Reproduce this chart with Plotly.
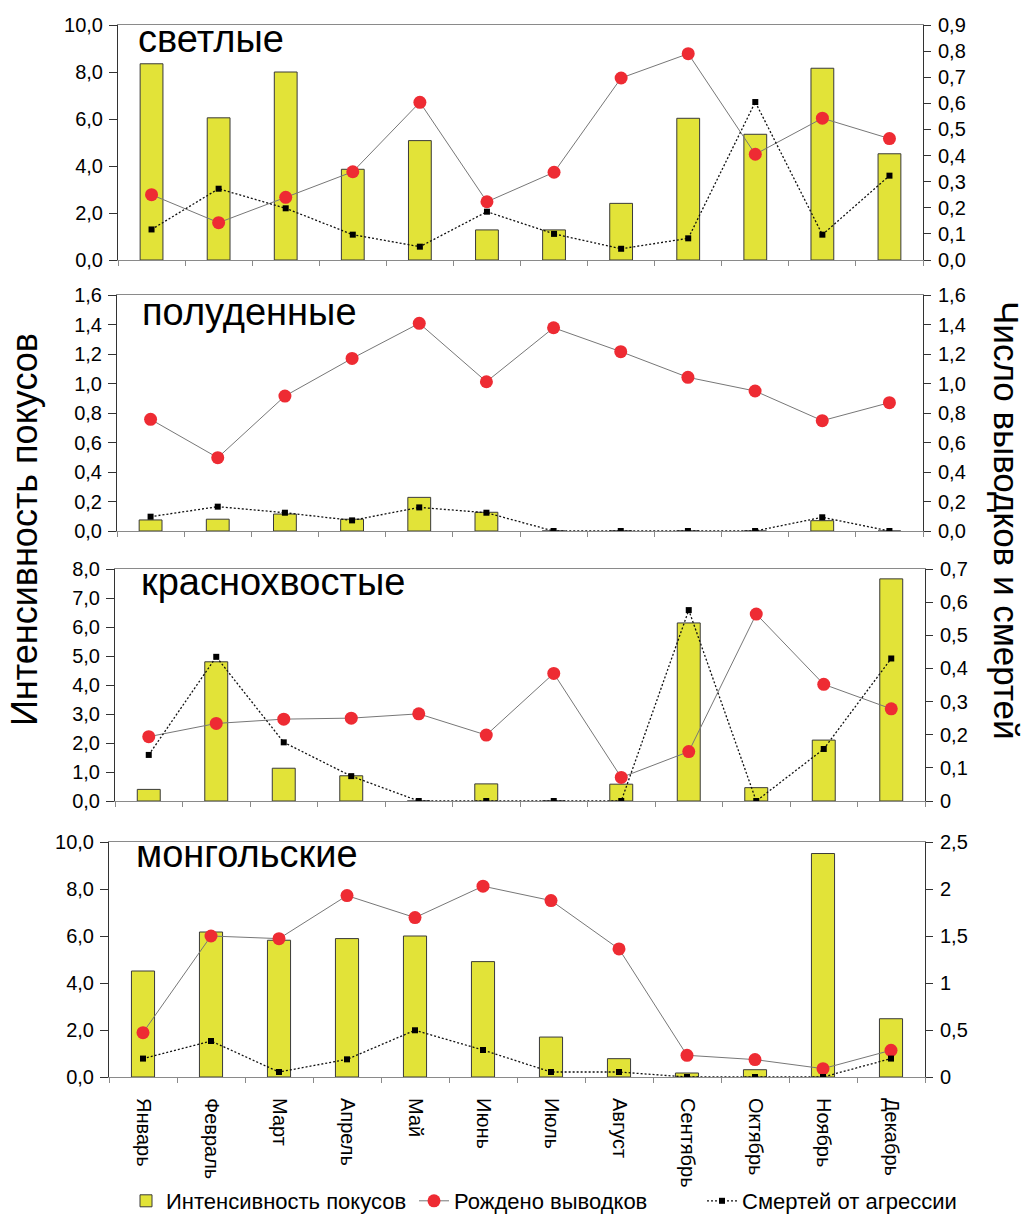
import plotly.graph_objects as go

# Месяцы (категории оси X)
months = ["Январь", "Февраль", "Март", "Апрель", "Май", "Июнь",
          "Июль", "Август", "Сентябрь", "Октябрь", "Ноябрь", "Декабрь"]

panel_names = ["светлые", "полуденные", "краснохвостые", "монгольские"]

# Интенсивность покусов (левая ось)
bites_svetlye = [8.35, 6.05, 8.0, 3.86, 5.08, 1.28, 1.28, 2.41, 6.03, 5.35, 8.16, 4.52]
bites_poludennye = [0.075, 0.08, 0.115, 0.08, 0.228, 0.127, 0, 0, 0, 0, 0.07, 0]
bites_krasnokhv = [0.4, 4.8, 1.13, 0.87, 0, 0.59, 0, 0.58, 6.14, 0.46, 2.1, 7.66]
bites_mongol = [4.51, 6.17, 5.82, 5.89, 6.0, 4.91, 1.70, 0.78, 0.17, 0.31, 9.51, 2.48]

# Рождено выводков (правая ось)
broods_svetlye = [0.25, 0.143, 0.24, 0.338, 0.604, 0.223, 0.336, 0.697, 0.79, 0.405, 0.543, 0.465]
broods_poludennye = [0.757, 0.497, 0.915, 1.17, 1.408, 1.012, 1.378, 1.216, 1.042, 0.949, 0.748, 0.87]
broods_krasnokhv = [0.194, 0.234, 0.247, 0.25, 0.263, 0.199, 0.385, 0.071, 0.149, 0.564, 0.352, 0.278]
broods_mongol = [0.472, 1.5, 1.472, 1.93, 1.696, 2.03, 1.877, 1.362, 0.231, 0.185, 0.089, 0.284]

# Смертей от агрессии (правая ось)
deaths_svetlye = [0.117, 0.273, 0.198, 0.097, 0.051, 0.185, 0.10, 0.043, 0.083, 0.605, 0.097, 0.323]
deaths_poludennye = [0.097, 0.165, 0.124, 0.072, 0.16, 0.124, 0, 0, 0, 0, 0.093, 0]
deaths_krasnokhv = [0.139, 0.435, 0.177, 0.075, 0, 0, 0, 0, 0.576, 0, 0.157, 0.43]
deaths_mongol = [0.196, 0.383, 0.053, 0.188, 0.497, 0.287, 0.053, 0.053, 0, 0, 0, 0.196]

# Подписи делений осей
left_ticks_1 = ["0,0", "2,0", "4,0", "6,0", "8,0", "10,0"]
right_ticks_1 = ["0,0", "0,1", "0,2", "0,3", "0,4", "0,5", "0,6", "0,7", "0,8", "0,9"]
left_ticks_2 = ["0,0", "0,2", "0,4", "0,6", "0,8", "1,0", "1,2", "1,4", "1,6"]
right_ticks_2 = ["0,0", "0,2", "0,4", "0,6", "0,8", "1,0", "1,2", "1,4", "1,6"]
left_ticks_3 = ["0,0", "1,0", "2,0", "3,0", "4,0", "5,0", "6,0", "7,0", "8,0"]
right_ticks_3 = ["0", "0,1", "0,2", "0,3", "0,4", "0,5", "0,6", "0,7"]
left_ticks_4 = ["0,0", "2,0", "4,0", "6,0", "8,0", "10,0"]
right_ticks_4 = ["0", "0,5", "1", "1,5", "2", "2,5"]

bites = [bites_svetlye, bites_poludennye, bites_krasnokhv, bites_mongol]
broods = [broods_svetlye, broods_poludennye, broods_krasnokhv, broods_mongol]
deaths = [deaths_svetlye, deaths_poludennye, deaths_krasnokhv, deaths_mongol]
left_ticks = [left_ticks_1, left_ticks_2, left_ticks_3, left_ticks_4]
right_ticks = [right_ticks_1, right_ticks_2, right_ticks_3, right_ticks_4]

W, H = 1036, 1218
# пиксельные границы панелей: (лево, право, верх, низ)
panel_px = [(118, 923, 25, 260), (117, 923, 295, 531),
            (115, 925, 569, 801), (109, 925, 842, 1077)]
title_px = [(136, 39), (140, 311.5), (139, 582), (134, 854)]

BAR = "#E2E338"
RED = "#EE2B33"
FONT = "Liberation Sans, Arial, sans-serif"


def num(t):
    return float(t.replace(",", "."))


fig = go.Figure()
layout = dict(
    width=W, height=H, margin=dict(l=0, r=0, t=0, b=0, autoexpand=False),
    paper_bgcolor="white", plot_bgcolor="white", template="none",
    font=dict(family=FONT, size=20, color="black"),
    separators=", ", bargap=0.66, showlegend=True,
    legend=dict(orientation="h", xref="container", yref="container",
                x=126 / W, xanchor="left",
                y=1 - 1201 / H, yanchor="middle",
                font=dict(size=22), bgcolor="rgba(0,0,0,0)",
                traceorder="normal", itemwidth=30,
                entrywidth=243, entrywidthmode="pixels"),
)

annotations = []
for i in range(4):
    xl, xr, yt, yb = panel_px[i]
    xn = "x" if i == 0 else f"x{i + 1}"
    yl_n = 2 * i + 1
    yr_n = 2 * i + 2
    yc_n = 9 + i
    yl = "y" if yl_n == 1 else f"y{yl_n}"
    yr = f"y{yr_n}"
    first = i == 0

    fig.add_trace(go.Bar(
        x=months, y=bites[i], xaxis=xn, yaxis=yl, width=0.34,
        marker=dict(color=BAR, line=dict(color="#3a3a3a", width=1)),
        name="Интенсивность покусов", legendgroup="b", showlegend=first))
    fig.add_trace(go.Scatter(
        x=months, y=broods[i], xaxis=xn, yaxis=yr, mode="lines+markers",
        line=dict(color="#777777", width=1),
        marker=dict(color=RED, size=13),
        name="Рождено выводков", legendgroup="r", showlegend=first))
    fig.add_trace(go.Scatter(
        x=months, y=deaths[i], xaxis=xn, yaxis=yr, mode="lines+markers",
        line=dict(color="#111111", width=1.3, dash="2px,2px"),
        marker=dict(color="black", size=6, symbol="square"),
        name="Смертей от агрессии", legendgroup="d", showlegend=first))

    xdom = [xl / W, xr / W]
    ydom = [1 - yb / H, 1 - yt / H]
    lt = left_ticks[i]
    rt = right_ticks[i]
    lrange = [0, num(lt[-1])]
    rrange = [0, num(rt[-1])]

    xkey = "xaxis" if i == 0 else f"xaxis{i + 1}"
    layout[xkey] = dict(
        domain=xdom, anchor=yl, type="category", categoryarray=months,
        range=[-0.5, 11.5], showline=True, linecolor="#8a8a8a", linewidth=1,
        mirror=True, ticks="outside", tickson="boundaries", ticklen=5,
        tickcolor="#8a8a8a", showgrid=False, zeroline=False,
        showticklabels=(i == 3), tickangle=90, automargin=False,
        tickfont=dict(size=20), ticklabelstandoff=16)
    ylkey = "yaxis" if yl_n == 1 else f"yaxis{yl_n}"
    layout[ylkey] = dict(
        domain=ydom, anchor=xn, range=lrange, showline=True,
        linecolor="#333333", linewidth=1, ticks="outside", ticklen=8,
        tickcolor="#333333", showgrid=False, zeroline=False,
        tickvals=[num(t) for t in lt], ticktext=lt, automargin=False,
        ticklabelstandoff=2)
    layout[f"yaxis{yr_n}"] = dict(
        domain=ydom, anchor=xn, overlaying=yl, side="right", range=rrange,
        showline=True, linecolor="#333333", linewidth=1, ticks="outside",
        ticklen=7, tickcolor="#333333", showgrid=False, zeroline=False,
        tickvals=[num(t) for t in rt], ticktext=rt, automargin=False,
        ticklabelstandoff=3)
    # внутренние засечки правой оси (перекрестные деления)
    layout[f"yaxis{yc_n}"] = dict(
        domain=ydom, anchor=xn, overlaying=yl, side="right", range=rrange,
        showline=False, ticks="inside", ticklen=7, tickcolor="#333333",
        showgrid=False, zeroline=False, showticklabels=False,
        tickvals=[num(t) for t in rt], automargin=False)

    tx, ty = title_px[i]
    annotations.append(dict(
        text=panel_names[i], xref="paper", yref="paper",
        x=tx / W, y=1 - ty / H, xanchor="left", yanchor="middle",
        showarrow=False, font=dict(size=38, color="black")))

annotations.append(dict(
    text="Интенсивность покусов", xref="paper", yref="paper",
    x=24 / W, y=1 - 530 / H, xanchor="center", yanchor="middle",
    textangle=-90, showarrow=False, font=dict(size=36)))
annotations.append(dict(
    text="Число выводков и смертей", xref="paper", yref="paper",
    x=1006 / W, y=1 - 520 / H, xanchor="center", yanchor="middle",
    textangle=90, showarrow=False, font=dict(size=35)))

layout["annotations"] = annotations
fig.update_layout(**layout)

fig.write_html("out.html")
